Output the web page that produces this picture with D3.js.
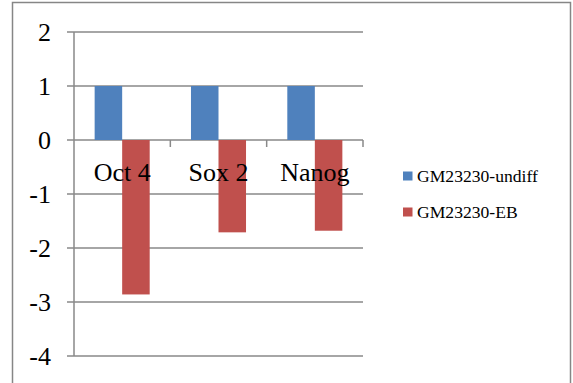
<!DOCTYPE html>
<html>
<head>
<meta charset="utf-8">
<script src="https://cdn.jsdelivr.net/npm/d3@7"></script>
<style>
  html, body { margin: 0; padding: 0; background: #fff; }
  svg { display: block; }
  text { font-family: "Liberation Serif", "Times New Roman", serif; fill: #000; }
</style>
</head>
<body>
<svg id="chart" width="573" height="383"></svg>
<script>
// Gene expression relative to undifferentiated cells
const categories = ["Oct 4", "Sox 2", "Nanog"];
const seriesNames = ["GM23230-undiff", "GM23230-EB"];
const undiffValues = [1, 1, 1];
const ebValues = [-2.86, -1.71, -1.68];
const yTicks = [2, 1, 0, -1, -2, -3, -4];
const colors = ["#4F81BD", "#C0504D"];

const svg = d3.select("#chart");
const gridColor = "#898989";

// chart frame
svg.append("rect")
  .attr("x", 12.5).attr("y", 2.5)
  .attr("width", 558).attr("height", 390)
  .attr("fill", "#fff")
  .attr("stroke", "#868686").attr("stroke-width", 1.5);

const plot = { left: 74, right: 363, top: 32, bottom: 356 };

const y = d3.scaleLinear().domain([-4, 2]).range([plot.bottom, plot.top]);
const x = d3.scaleBand().domain(categories).range([plot.left, plot.right]);
const xSub = d3.scaleBand().domain(seriesNames)
  .range([0, x.bandwidth()])
  .paddingInner(0).paddingOuter(0.75);

// horizontal gridlines
svg.append("g").selectAll("line")
  .data(yTicks)
  .join("line")
  .attr("x1", plot.left - 7).attr("x2", plot.right)
  .attr("y1", d => y(d)).attr("y2", d => y(d))
  .attr("stroke", gridColor).attr("stroke-width", 1.5);

// vertical axis line
svg.append("line")
  .attr("x1", plot.left).attr("x2", plot.left)
  .attr("y1", plot.top).attr("y2", plot.bottom)
  .attr("stroke", gridColor).attr("stroke-width", 1.5);

// category tick marks on the zero line
const boundaries = categories.map(c => x(c)).concat([x(categories[categories.length - 1]) + x.bandwidth()]);
svg.append("g").selectAll("line")
  .data(boundaries.slice(1))
  .join("line")
  .attr("x1", d => d).attr("x2", d => d)
  .attr("y1", y(0)).attr("y2", y(0) + 7)
  .attr("stroke", gridColor).attr("stroke-width", 1.5);

// bars
const rows = categories.map((c, i) => ({ cat: c, vals: [undiffValues[i], ebValues[i]] }));
const barG = svg.append("g");
rows.forEach(r => {
  r.vals.forEach((v, si) => {
    barG.append("rect")
      .attr("x", x(r.cat) + xSub(seriesNames[si]))
      .attr("width", xSub.bandwidth())
      .attr("y", y(Math.max(0, v)))
      .attr("height", Math.abs(y(v) - y(0)))
      .attr("fill", colors[si]);
  });
});

// y tick labels
svg.append("g").selectAll("text")
  .data(yTicks)
  .join("text")
  .attr("x", 51).attr("y", d => y(d))
  .attr("dy", "0.36em")
  .attr("text-anchor", "end")
  .attr("font-size", 26)
  .text(d => d);

// category labels
svg.append("g").selectAll("text")
  .data(categories)
  .join("text")
  .attr("x", d => x(d) + x.bandwidth() / 2)
  .attr("y", 181)
  .attr("text-anchor", "middle")
  .attr("font-size", 26)
  .text(d => d);

// legend
const legend = svg.append("g");
seriesNames.forEach((name, i) => {
  const ly = 176 + i * 36;
  legend.append("rect")
    .attr("x", 403).attr("y", ly - 4.5)
    .attr("width", 9.5).attr("height", 9)
    .attr("fill", colors[i]);
  legend.append("text")
    .attr("x", 417).attr("y", ly + 6.3)
    .attr("font-size", 17.6)
    .text(name);
});
</script>
</body>
</html>
